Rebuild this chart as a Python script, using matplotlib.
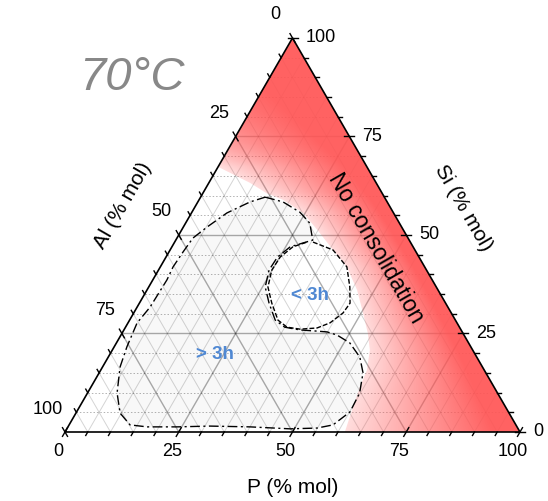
import numpy as np
import matplotlib.pyplot as plt
from matplotlib.patches import Polygon

plt.rcParams['font.family'] = ['Liberation Sans', 'DejaVu Sans']

# compositions in % mol, Al = 100 - P - Si
over3h_P = [14.2, 18.7, 23.7, 27.3, 30.1, 26.0, 24.5, 24.3, 25.6, 28.5, 32.0, 35.0, 38.7, 42.6,
            44.9, 47.5, 51.3, 55.3, 58.0, 59.8, 60.1, 58.0, 54.9, 49.1, 40.0, 31.1, 24.0, 17.4,
            13.4, 9.7, 6.5, 3.85, 2.8, 2.0, 2.85, 3.1, 2.8, 3.1, 3.5, 5.2, 7.8, 11.5]
over3h_Si = [59.6, 58.4, 55.8, 53.0, 48.7, 47.0, 44.4, 41.1, 36.8, 32.7, 28.4, 26.6, 25.9, 25.6,
             25.4, 24.6, 22.6, 19.0, 15.0, 9.9, 5.1, 1.8, 1.0, 0.8, 1.3, 1.5, 1.3, 1.3,
             1.8, 4.8, 9.9, 16.5, 21.6, 27.7, 31.7, 38.6, 41.9, 45.7, 49.2, 52.0, 55.6, 58.4]

under3h_P = [30.4, 35.8, 41.0, 44.2, 46.3, 46.0, 44.4, 42.2, 38.6, 35.5, 32.6, 29.1, 26.2,
             24.9, 25.1, 26.6, 29.1]
under3h_Si = [48.2, 46.2, 41.9, 36.8, 32.7, 30.2, 27.7, 26.4, 26.1, 26.6, 28.4, 32.7, 36.8,
              41.1, 44.4, 47.0, 48.2]

nocons_P = [0.0, 9.1, 14.0, 18.5, 24.5, 29.8, 35.8, 41.0, 46.2, 50.4, 54.0, 56.6, 58.5, 59.1, 60.3, 61.5]
nocons_Si = [67.3, 63.2, 60.6, 58.9, 55.6, 51.3, 46.2, 41.9, 36.0, 30.2, 25.1, 20.8, 15.7, 11.4, 5.6, 0.0]

major_ticks = [0, 25, 50, 75, 100]
tick_labels = ['0', '25', '50', '75', '100']
minor_ticks = [v for v in range(5, 100, 5) if v % 25]

H = np.sqrt(3) / 2
u = 1 / 455.  # one pixel in data units


def tern(p, si):
    p = np.asarray(p, float) / 100
    si = np.asarray(si, float) / 100
    return p + si / 2, si * H


fig = plt.figure(figsize=(5.48, 5.01), dpi=100)
ax = fig.add_axes([0, 0, 1, 1])
ax.axis('off')

# >3h region
x, y = tern(over3h_P, over3h_Si)
ax.add_patch(Polygon(np.column_stack((x, y)), closed=True, facecolor='#f8f8f8', edgecolor='none', zorder=0.5))

# grid
for v in range(5, 100, 5):
    major = v % 25 == 0
    kw = dict(color='k', alpha=0.33 if major else 0.17, lw=1.0 if major else 0.7, zorder=2)
    # constant Si
    gx, gy = tern([0, 100 - v], [v, v])
    if major:
        ax.plot(gx, gy, **kw)
    else:
        ax.plot(gx, gy, color='k', alpha=0.3, lw=0.7, ls=(0, (1.5, 2)), zorder=2)
    # constant P
    gx, gy = tern([v, v], [0, 100 - v])
    ax.plot(gx, gy, **kw)
    # constant Al
    gx, gy = tern([100 - v, 0], [0, 100 - v])
    ax.plot(gx, gy, **kw)

# no consolidation region, semi transparent red fading towards its boundary
bx, by = tern(nocons_P + [100, 0], nocons_Si + [0, 100])
red_patch = Polygon(np.column_stack((bx, by)), closed=True, facecolor='none', edgecolor='none',
                    transform=ax.transData)
ax.add_patch(red_patch)

xs = np.linspace(0, 1, 800)
ys = np.linspace(0, H, 700)
X, Y = np.meshgrid(xs, ys)
Si = Y / H * 100
P = (X - Y / np.sqrt(3)) * 100
Al = 100 - P - Si
al_b = 100 - np.array(nocons_P) - np.array(nocons_Si)
edge_si = np.concatenate((np.array(nocons_Si)[::-1], [100]))
edge_al = np.concatenate((al_b[::-1], [120]))
Alb = np.interp(Si, edge_si, edge_al)
t = np.clip(Al / Alb, 0, 1)
s = np.clip((t - 0.15) / 0.85, 0, 1)
alpha = 0.92 - (0.92 - 0.2) * s
rgba = np.zeros(X.shape + (4,))
rgba[..., 0] = 1.0
rgba[..., 1] = 0.33
rgba[..., 2] = 0.33
rgba[..., 3] = alpha
img = ax.imshow(rgba, extent=(0, 1, 0, H), origin='lower', interpolation='bilinear', zorder=2.5)
img.set_clip_path(red_patch)

# contours
x, y = tern(over3h_P + over3h_P[:1], over3h_Si + over3h_Si[:1])
ax.plot(x, y, color='k', lw=1.0, ls=(0, (7, 2.5, 1.5, 2.5)), zorder=3)
x, y = tern(under3h_P, under3h_Si)
ax.plot(x, y, color='k', lw=1.0, ls=(0, (3.5, 1.5)), zorder=3)

# frame
fx, fy = tern([0, 100, 0, 0], [0, 0, 100, 0])
ax.plot(fx, fy, color='k', lw=1.2, zorder=4, solid_joinstyle='miter')

axes_def = {
    'P': (lambda v: tern(v, 0), np.array([-0.5, -H])),
    'Si': (lambda v: tern(100 - v, v), np.array([1.0, 0.0])),
    'Al': (lambda v: tern(0, 100 - v), np.array([-0.5, H])),
}
for name, (base, d) in axes_def.items():
    for v in list(major_ticks) + minor_ticks:
        bx0, by0 = base(v)
        if v in major_ticks:
            a, b = -5 * u, 5 * u
        else:
            a, b = 0, 4 * u
        ax.plot([bx0 + a * d[0], bx0 + b * d[0]], [by0 + a * d[1], by0 + b * d[1]],
                color='k', lw=1.0, zorder=4)

for v, lab in zip(major_ticks, tick_labels):
    bx0, by0 = tern(v, 0)
    ax.text(bx0 - 7 * u, by0 - 20 * u, lab, ha='center', va='center', fontsize=13)
    bx0, by0 = tern(100 - v, v)
    ax.text(bx0 + 13 * u, by0, lab, ha='left', va='center', fontsize=13)
    bx0, by0 = tern(0, 100 - v)
    ax.text(bx0 - 17 * u, by0 + 23 * u, lab, ha='center', va='center', fontsize=13)

ax.text(0.501, -0.123, 'P (% mol)', ha='center', va='center', fontsize=15)
ax.text(0.875, 0.492, 'Si (% mol)', ha='center', va='center', fontsize=15, rotation=-60)
ax.text(0.127, 0.498, 'Al (% mol)', ha='center', va='center', fontsize=15, rotation=60)
ax.text(0.6835, 0.4044, 'No consolidation', ha='center', va='center', fontsize=16.5,
        rotation=-60, zorder=5)
ax.text(0.538, 0.299, '< 3h', ha='center', va='center', fontsize=13.5, fontweight='bold',
        color='#4f88d3', zorder=5)
ax.text(0.329, 0.170, '> 3h', ha='center', va='center', fontsize=13.5, fontweight='bold',
        color='#4f88d3', zorder=5)
ax.text(0.147, 0.778, '70°C', ha='center', va='center', fontsize=34, style='italic',
        color='#888888')

ax.set_xlim(-65 * u, 483 * u)
ax.set_ylim(-69 * u, 432 * u)
ax.set_aspect('auto')

fig.savefig('out.png', dpi=100)
